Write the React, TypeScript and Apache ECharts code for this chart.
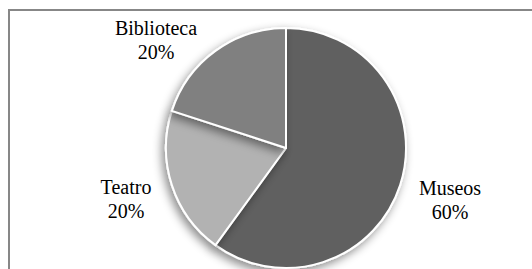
import React, { useEffect, useRef } from "react";
import * as echarts from "echarts";

const categories = ["Museos", "Teatro", "Biblioteca"];
const values = [60, 20, 20];
const colors = ["#606060", "#b2b2b2", "#808080"];
// label block centres (layout only)
const labelPos: [number, number][] = [
  [450, 200],
  [126, 199],
  [156, 40],
];

export default function App() {
  const ref = useRef<HTMLDivElement>(null);
  useEffect(() => {
    document.body.style.margin = "0";
    const chart = echarts.init(ref.current!, undefined, { renderer: "svg" });
    chart.setOption({
      animation: false,
      backgroundColor: "#ffffff",
      graphic: [
        {
          type: "rect",
          shape: { x: 9, y: 10, width: 560, height: 300 },
          style: { fill: "none", stroke: "#878787", lineWidth: 2 },
          silent: true,
        },
      ],
      series: [
        {
          type: "pie",
          center: [286, 148],
          radius: 120,
          startAngle: 90,
          clockwise: true,
          data: categories.map((c, i) => ({
            name: c,
            value: values[i],
            itemStyle: { color: colors[i] },
          })),
          itemStyle: {
            borderColor: "#ffffff",
            borderWidth: 2,
            shadowBlur: 10,
            shadowOffsetX: -3,
            shadowOffsetY: 4,
            shadowColor: "rgba(0,0,0,0.45)",
          },
          label: {
            show: true,
            position: "outside",
            formatter: "{b}\n{d}%",
            fontFamily: "'Liberation Serif', 'Times New Roman', serif",
            fontSize: 20,
            lineHeight: 24,
            color: "#000000",
            align: "center",
          },
          labelLine: { show: false },
          labelLayout: (params: any) => {
            const p = labelPos[params.dataIndex];
            return { x: p[0], y: p[1], align: "center", verticalAlign: "middle" };
          },
          emphasis: { disabled: true },
        },
      ],
    });
    return () => chart.dispose();
  }, []);
  return (
    <div
      ref={ref}
      style={{ position: "absolute", left: 0, top: 0, width: 532, height: 269 }}
    />
  );
}
